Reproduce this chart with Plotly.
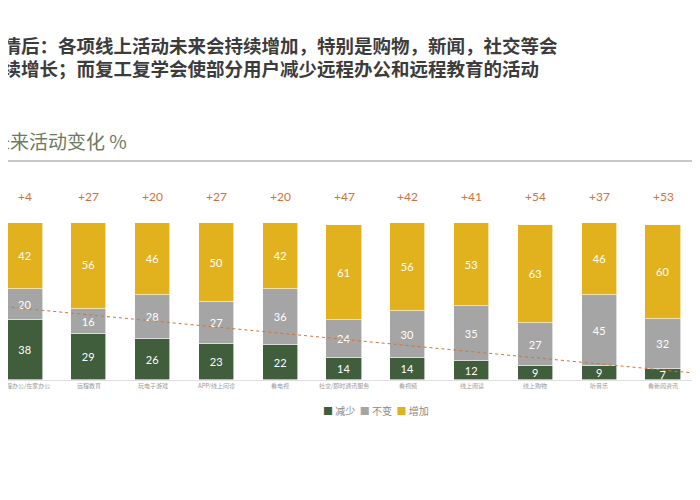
import plotly.graph_objects as go

categories = ["远程办公/在家办公", "远程教育", "玩电子游戏", "APP/线上问诊", "看电视",
              "社交/即时通讯服务", "看视频", "线上阅读", "线上购物", "听音乐", "看新闻资讯"]
decrease = [38, 29, 26, 23, 22, 14, 14, 12, 9, 9, 7]
unchanged = [20, 16, 28, 27, 36, 24, 30, 35, 27, 45, 32]
increase = [42, 56, 46, 50, 42, 61, 56, 53, 63, 46, 60]
net_change = ["+4", "+27", "+20", "+27", "+20", "+47", "+42", "+41", "+54", "+37", "+53"]
trend_x = [-0.4, 10.6]
trend_y = [47, 4]

GREEN = "#405d3c"
GRAY = "#a5a5a5"
YELLOW = "#e2b21e"
ORANGE = "#d0733a"

# page is rendered with an ~8px body offset; coordinates below are in screen pixels
OFF = 8
W, H = 700, 500
mt = 223 - OFF
mb = H - (380 - OFF)
ph = H - mt - mb

def py(pix):
    return (H - mb - (pix - OFF)) / ph

def px(pix):
    return (pix - OFF) / W

step = 63.8
x0 = -(25 - OFF) / step
x1 = x0 + W / step

xs = list(range(len(categories)))
fig = go.Figure()
for name, vals, col in [("减少", decrease, GREEN), ("不变", unchanged, GRAY), ("增加", increase, YELLOW)]:
    fig.add_trace(go.Bar(
        x=xs, y=vals, name=name, marker=dict(color=col, line=dict(width=0.6, color="white")),
        width=0.55, text=[str(v) for v in vals], textposition="inside",
        insidetextanchor="middle", textangle=0, constraintext="none",
        textfont=dict(color="white", size=11, family="Lato"),
        showlegend=False))

fig.add_trace(go.Scatter(x=trend_x, y=trend_y, mode="lines",
                         line=dict(color=ORANGE, width=1, dash="dot"),
                         showlegend=False, hoverinfo="skip"))

for i, t in enumerate(net_change):
    fig.add_annotation(x=i, y=py(196), xref="x", yref="paper", text=t, showarrow=False,
                       yanchor="middle", font=dict(color=ORANGE, size=12, family="Lato"))

for i, c in enumerate(categories):
    fig.add_annotation(x=i, y=py(385), xref="x", yref="paper", text=c, showarrow=False,
                       yanchor="middle", font=dict(color="#9a9a9a", size=6, family="Noto Sans CJK SC"))

title_font = dict(family="Noto Sans CJK SC", size=18.5, color="#3c3c3c")
fig.add_annotation(x=px(-18.5), y=py(45), xref="paper", yref="paper", xanchor="left", yanchor="middle",
                   text="<b>疫情后：各项线上活动未来会持续增加，特别是购物，新闻，社交等会</b>",
                   showarrow=False, font=title_font)
fig.add_annotation(x=px(-18.5), y=py(68), xref="paper", yref="paper", xanchor="left", yanchor="middle",
                   text="<b>继续增长；而复工复学会使部分用户减少远程办公和远程教育的活动</b>",
                   showarrow=False, font=title_font)
fig.add_annotation(x=px(-11), y=py(140), xref="paper", yref="paper", xanchor="left", yanchor="middle",
                   text="未来活动变化 %", showarrow=False,
                   font=dict(family="Noto Sans CJK SC", size=19, color="#6b7b5e"))
fig.add_shape(type="line", xref="paper", yref="paper", x0=0, x1=1, y0=py(161), y1=py(161),
              line=dict(color="#b5b5b5", width=1.5))

legend_text = (f"<span style='color:{GREEN}'>■</span> 减少  "
               f"<span style='color:{GRAY}'>■</span> 不变  "
               f"<span style='color:{YELLOW}'>■</span> 增加")
fig.add_annotation(x=px(376), y=py(410), xref="paper", yref="paper", xanchor="center", yanchor="middle",
                   text=legend_text, showarrow=False,
                   font=dict(family="Noto Sans CJK SC", size=10, color="#8a8a8a"))

fig.update_layout(
    width=W, height=H, barmode="stack",
    margin=dict(l=0, r=0, t=mt, b=mb),
    plot_bgcolor="white", paper_bgcolor="white",
    bargap=0,
    xaxis=dict(range=[x0, x1], showticklabels=False,
               showgrid=False, zeroline=False, showline=True, linecolor="#e0e0e0",
               ticks=""),
    yaxis=dict(range=[0, 100], visible=False, showgrid=False),
)

fig.write_html("out.html")
